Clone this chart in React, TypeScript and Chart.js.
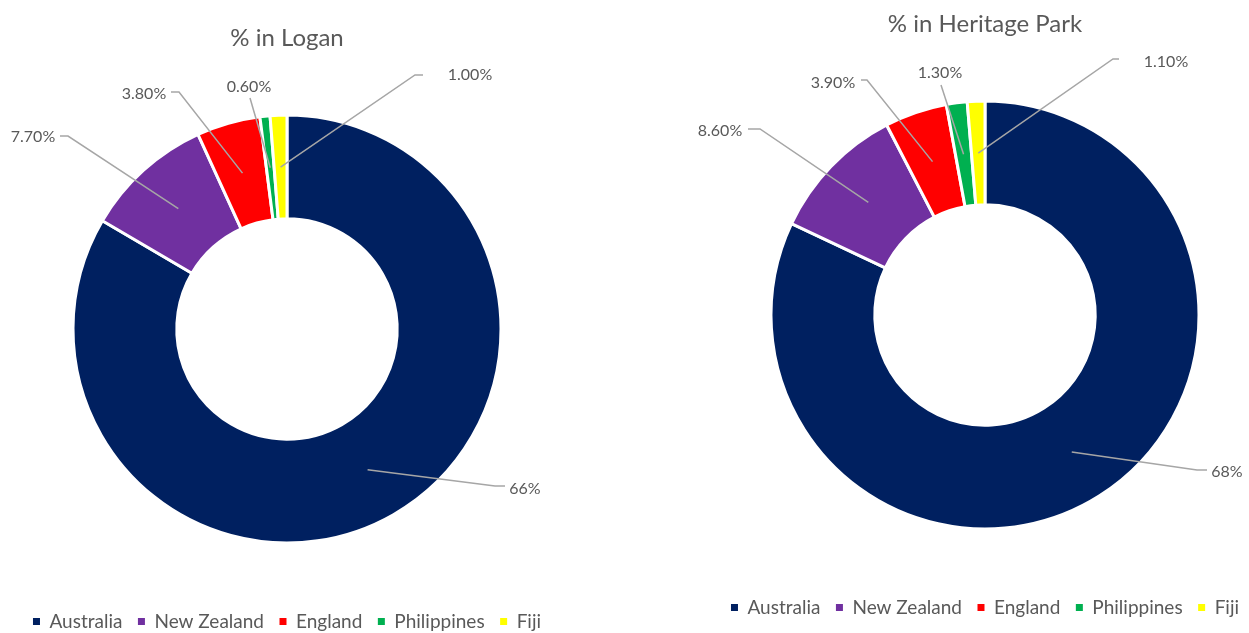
import React, { useEffect, useRef } from 'react';
import { Chart, registerables } from 'chart.js';

Chart.register(...registerables);

const categories = ['Australia', 'New Zealand', 'England', 'Philippines', 'Fiji'];
const loganValues = [66, 7.7, 3.8, 0.6, 1.0];
const heritageValues = [68, 8.6, 3.9, 1.3, 1.1];
const labelDecimals = [0, 2, 2, 2, 2];
const sliceColors = ['#002060', '#7030A0', '#FF0000', '#00B050', '#FFFF00'];
const chartTitles = ['% in Logan', '% in Heritage Park'];

// callout layout (offsets from the doughnut centre): [textDx, textDy, lineEndDx, lineEndDy, elbowDx]
const loganCallouts = [
  [238, 160, 218, 157, -10],
  [-254, -192, -227, -193, 8],
  [-143, -235, -116, -237, 8],
  [-38, -242, -37, -231, 0],
  [183, -254, 136, -254, -8],
];
const heritageCallouts = [
  [242, 157, 222, 155, -10],
  [-265, -184, -237, -186, 12],
  [-152, -232, -124, -235, 6],
  [-45, -242, -44, -230, 0],
  [181, -253, 134, -256, -6],
];

const TEXT = '#595959';
const FONT = 'Lato, "Open Sans", sans-serif';

const calloutPlugin = {
  id: 'callouts',
  afterDatasetsDraw(chart: any, _args: any, opts: any) {
    const meta = chart.getDatasetMeta(0);
    const values = chart.data.datasets[0].data as number[];
    const ctx = chart.ctx;
    ctx.save();
    meta.data.forEach((arc: any, i: number) => {
      const c = arc.getProps(['x', 'y'], true);
      const p = arc.tooltipPosition(true);
      const [tdx, tdy, ldx, ldy, edx] = opts.layout[i];
      const ex = c.x + ldx;
      const ey = c.y + ldy;
      ctx.strokeStyle = '#A6A6A6';
      ctx.lineWidth = 1.5;
      ctx.beginPath();
      ctx.moveTo(p.x, p.y);
      if (edx) ctx.lineTo(ex + edx, ey);
      ctx.lineTo(ex, ey);
      ctx.stroke();
      ctx.fillStyle = TEXT;
      ctx.font = `16px ${FONT}`;
      ctx.textAlign = 'center';
      ctx.textBaseline = 'middle';
      ctx.fillText(values[i].toFixed(opts.decimals[i]) + '%', c.x + tdx, c.y + tdy);
    });
    ctx.restore();
  },
};

function Donut({ title, values, callouts, left, top }: any) {
  const ref = useRef<HTMLCanvasElement>(null);
  useEffect(() => {
    if (!ref.current) return;
    const chart = new Chart(ref.current, {
      type: 'doughnut',
      data: {
        labels: categories,
        datasets: [
          {
            data: values,
            backgroundColor: sliceColors,
            borderColor: '#FFFFFF',
            borderWidth: 3,
          },
        ],
      },
      options: {
        responsive: false,
        animation: false,
        events: [],
        radius: 214,
        cutout: '51.5%',
        layout: { padding: 0 },
        plugins: {
          title: {
            display: true,
            text: title,
            color: TEXT,
            font: { family: FONT, size: 24, weight: 'normal' },
            padding: { top: 24, bottom: 8.7 },
          },
          legend: {
            position: 'bottom',
            labels: {
              color: TEXT,
              font: { family: FONT, size: 19 },
              boxWidth: 7,
              boxHeight: 7,
              padding: 15.5,
              generateLabels: (ch: any) =>
                (Chart as any).overrides.doughnut.plugins.legend.labels
                  .generateLabels(ch)
                  .map((l: any) => ({ ...l, lineWidth: 0, strokeStyle: l.fillStyle })),
            },
          },
          tooltip: { enabled: false },
          callouts: { layout: callouts, decimals: labelDecimals },
        } as any,
      } as any,
      plugins: [calloutPlugin],
    });
    return () => chart.destroy();
  }, []);
  return (
    <canvas
      ref={ref}
      width={574}
      height={641}
      style={{ position: 'absolute', left, top, width: 574, height: 641 }}
    />
  );
}

export default function App() {
  return (
    <div
      style={{
        position: 'absolute',
        left: 0,
        top: 0,
        width: 1249,
        height: 633,
        overflow: 'hidden',
        background: '#FFFFFF',
      }}
    >
      <Donut title={chartTitles[0]} values={loganValues} callouts={loganCallouts} left={0} top={0} />
      <Donut title={chartTitles[1]} values={heritageValues} callouts={heritageCallouts} left={698} top={-14} />
    </div>
  );
}
